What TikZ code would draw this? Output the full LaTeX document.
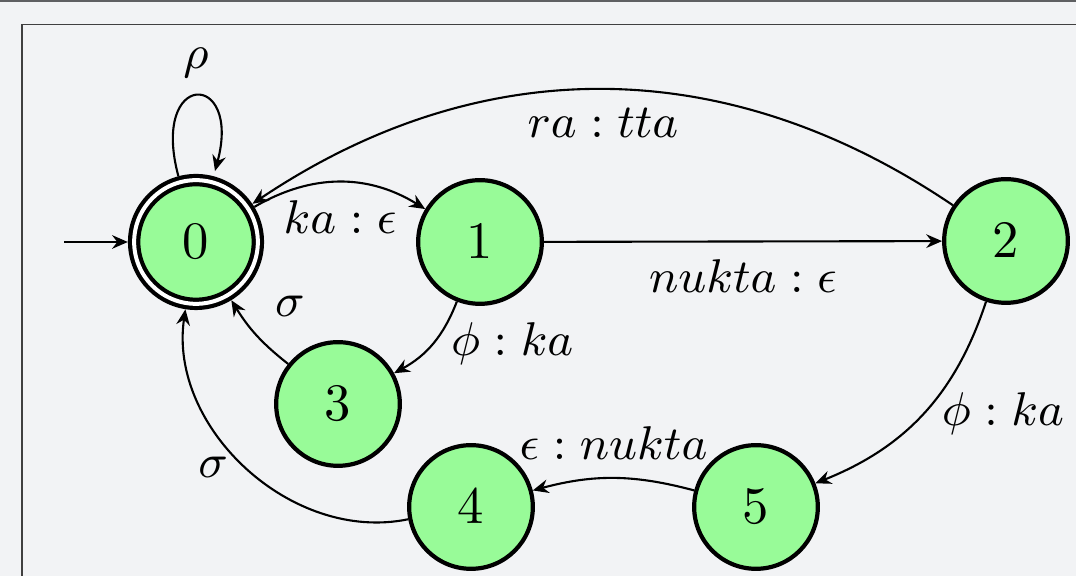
\documentclass[tikz,border=0pt]{standalone}
\usetikzlibrary{automata,arrows.meta}
\definecolor{bg}{HTML}{F2F3F5}
\definecolor{statefill}{RGB}{152,251,152}
\definecolor{frameline}{HTML}{5F6062}
\begin{document}
\begin{tikzpicture}[x=0.19pt,y=-0.19pt,
  >={Stealth[length=3pt,width=2.6pt,inset=1pt]},
  every state/.style={draw,thick,fill=statefill,circle,minimum size=23.5pt,inner sep=0pt},
  accept/.style={double,double distance=0.76pt,outer sep=1.2pt},
  trans/.style={->,line width=0.4pt},
  every edge quotes/.style={},
  lab/.style={font=\small},
]
\useasboundingbox (0,0) rectangle (1076,576);
\fill[bg] (0,0) rectangle (1076,576);
\fill[frameline] (0,0) rectangle (1076,2.5);
\draw[black!75,line width=0.35pt] (1076,24.5) -- (22,24.5) -- (22,576);

\node[state,accept] (q0) at (196,242) {$0$};
\node[state] (q1) at (480,242) {$1$};
\node[state] (q2) at (1006,241) {$2$};
\node[state] (q3) at (338,404) {$3$};
\node[state] (q4) at (471,507) {$4$};
\node[state] (q5) at (756,507) {$5$};
\coordinate (start) at (64,242);

\draw[trans] (start) -- (q0);
\path[trans]
  (q0) edge[loop above] node[lab,above] {$\rho$} ()
  (q0) edge[bend left=31] node[lab,below] {$ka : \epsilon$} (q1)
  (q1) edge node[lab,below] {$nukta : \epsilon$} (q2)
  (q2) edge[bend right=34] node[lab,below] {$ra : tta$} (q0)
  (q1) edge[bend left=20] node[lab,right] {$\phi : ka$} (q3)
  (q3) edge[bend left=10] node[lab,above right] {$\sigma$} (q0)
  (q2) edge[bend left=25] node[lab,right] {$\phi : ka$} (q5)
  (q5) edge[bend right=15] node[lab,above] {$\epsilon : nukta$} (q4)
  (q4) edge[bend left=55] node[lab,left] {$\sigma$} (q0);
\end{tikzpicture}
\end{document}
